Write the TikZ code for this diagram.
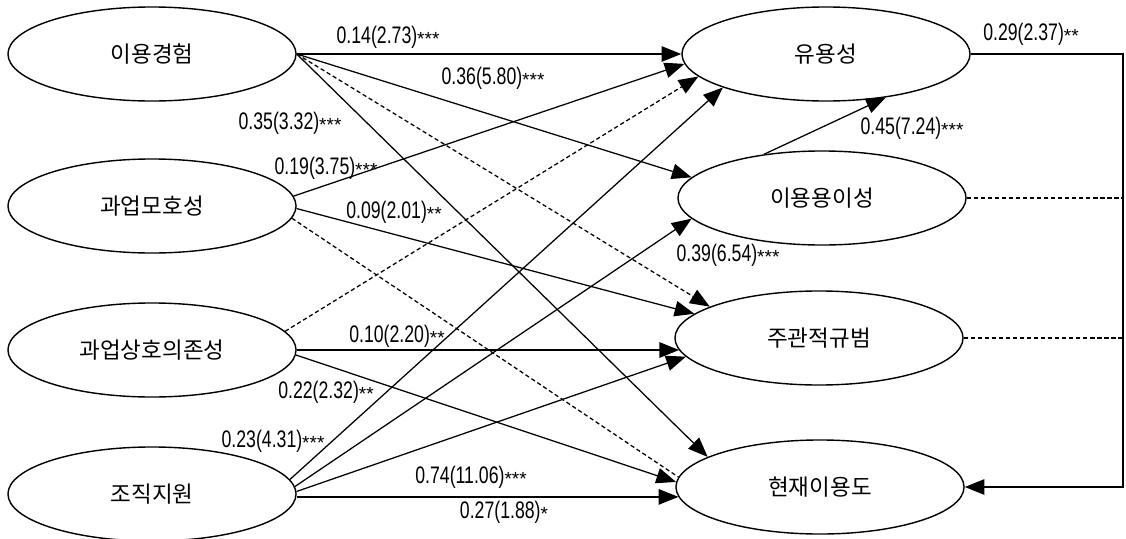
\documentclass[tikz,border=0pt]{standalone}
\usepackage{fontspec}
\setmainfont{Noto Sans CJK KR}
\newfontfamily\numfont[FakeStretch=0.74]{Liberation Sans}
\newfontfamily\starfont{Liberation Sans}
\usetikzlibrary{arrows.meta, shapes.geometric}
\newcommand{\est}[2]{{\numfont\fontsize{17}{17}\selectfont #1}\raisebox{-1.9pt}{\starfont\fontsize{13.5}{13.5}\selectfont #2}}

\begin{document}
\begin{tikzpicture}[x=0.025cm, y=-0.025cm,
  factor/.style={ellipse, draw, line width=1pt, minimum width=7.2cm, minimum height=2.35cm, inner sep=0pt, font=\fontsize{16}{16}\selectfont},
  path/.style={line width=0.9pt, -{Triangle[length=14pt,width=11pt]}},
  nsig/.style={line width=0.9pt, dash pattern=on 3pt off 2pt},
  lbl/.style={inner sep=0pt}]
\useasboundingbox (0,0) rectangle (1126,539);

%exogenous factors
\node[factor] (ue) at (152,54) {이용경험};
\node[factor] (gm) at (152,206) {과업모호성};
\node[factor] (gs) at (152,350) {과업상호의존성};
\node[factor] (jj) at (152,494) {조직지원};
%endogenous factors
\node[factor] (uy) at (826,54) {유용성};
\node[factor] (ie) at (822,198) {이용용이성};
\node[factor] (jg) at (819,338) {주관적규범};
\node[factor] (hj) at (820,487) {현재이용도};
\coordinate (rx) at (1123,0);

%paths from 이용경험
\draw[path] (ue.east) -- (uy.west);
\draw[path] (ue.east) -- (ie.171);
\draw[path, nsig] (ue.east) -- (jg.164);
\draw[path] (ue.east) -- (hj.165);
%paths from 과업모호성
\draw[path] (gm.4) -- (uy.184);
\draw[path] (gm.-1) -- (jg.169);
\draw[nsig] (gm.-5) -- (hj.176);
%paths from 과업상호의존성
\draw[path, nsig] (gs.8) -- (uy.190);
\draw[path] (gs.east) -- (gs.east -| jg.185);
\draw[path] (gs.-2) -- (hj.178);
%paths from 조직지원
\draw[path] (jj.6) -- (uy.198);
\draw[path] (jj.3) -- (ie.189);
\draw[path] (jj.1) -- (jg.188);
\draw[path] (jj.east |- hj.184) -- (hj.184);
%between endogenous factors
\draw[path] (ie.143) -- (uy.-36);
\draw[path] (uy.east) -- (uy.east -| rx) -- (hj.east -| rx) -- (hj.east);
\draw[nsig] (ie.east) -- (ie.east -| rx);
\draw[nsig] (jg.east) -- (jg.east -| rx);

%estimates
\node[lbl] (c1) at (388,37) {\est{0.14(2.73)}{***}};
\node[lbl] (c2) at (493,78) {\est{0.36(5.80)}{***}};
\node[lbl] (c3) at (290,123) {\est{0.35(3.32)}{***}};
\node[lbl] (c4) at (326,168) {\est{0.19(3.75)}{***}};
\node[lbl] (c5) at (394,212) {\est{0.09(2.01)}{**}};
\node[lbl] (c6) at (397,336) {\est{0.10(2.20)}{**}};
\node[lbl] (c7) at (326,392) {\est{0.22(2.32)}{**}};
\node[lbl] (c8) at (273,441) {\est{0.23(4.31)}{***}};
\node[lbl] (c9) at (471,477) {\est{0.74(11.06)}{***}};
\node[lbl] (c10) at (504,512) {\est{0.27(1.88)}{*}};
\node[lbl] (c11) at (1031,34) {\est{0.29(2.37)}{**}};
\node[lbl] (c12) at (912,128) {\est{0.45(7.24)}{***}};
\node[lbl] (c13) at (728,255) {\est{0.39(6.54)}{***}};
\end{tikzpicture}
\end{document}
